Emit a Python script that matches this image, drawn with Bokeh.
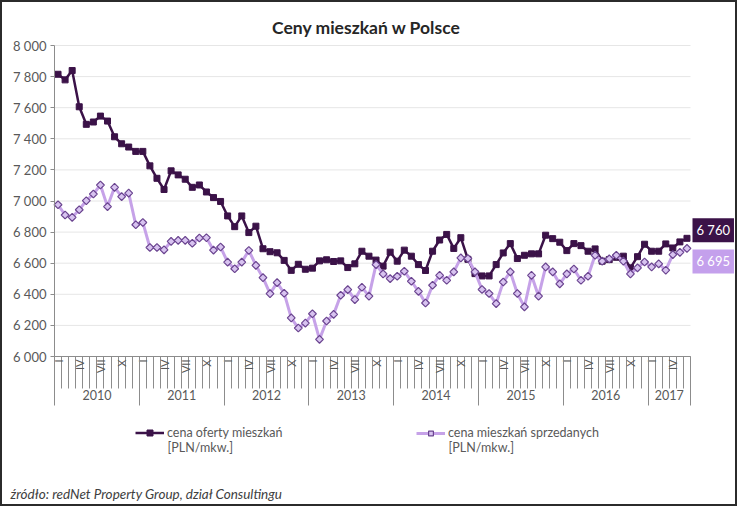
import math
from bokeh.plotting import figure
from bokeh.models import Range1d, LinearAxis, FixedTicker, Legend, LegendItem, Label
from bokeh.embed import file_html
from bokeh.resources import INLINE

# ---------------- data ----------------
years = ["2010", "2011", "2012", "2013", "2014", "2015", "2016", "2017"]
months_per_year = [12, 12, 12, 12, 12, 12, 12, 6]
month_labels = ["I", "", "", "IV", "", "", "VII", "", "", "X", "", ""]
y_ticks = [6000, 6200, 6400, 6600, 6800, 7000, 7200, 7400, 7600, 7800, 8000]

offer_name = "cena oferty mieszkań"
sold_name = "cena mieszkań sprzedanych"
unit_text = "[PLN/mkw.]"
title_text = "Ceny mieszkań w Polsce"
source_text = "źródło: redNet Property Group, dział Consultingu"

offer = [7815, 7779, 7839, 7606, 7493, 7508, 7546, 7514, 7413, 7368, 7347, 7319,
         7319, 7226, 7146, 7074, 7194, 7168, 7140, 7088, 7103, 7058, 7022, 6997,
         6904, 6835, 6904, 6797, 6838, 6693, 6674, 6667, 6618, 6554, 6593, 6561,
         6568, 6615, 6622, 6611, 6615, 6572, 6596, 6677, 6645, 6620, 6581, 6671,
         6613, 6684, 6645, 6591, 6553, 6677, 6749, 6785, 6695, 6764, 6625, 6533,
         6518, 6518, 6591, 6666, 6726, 6630, 6651, 6660, 6660, 6780, 6758, 6735,
         6681, 6726, 6713, 6677, 6692, 6613, 6623, 6638, 6645, 6570, 6642, 6722,
         6677, 6677, 6724, 6698, 6737, 6760]
sold = [6976, 6910, 6895, 6944, 7002, 7045, 7103, 6964, 7088, 7028, 7051, 6847,
        6862, 6701, 6701, 6686, 6740, 6747, 6747, 6728, 6762, 6764, 6684, 6704,
        6607, 6564, 6607, 6682, 6586, 6507, 6404, 6475, 6407, 6248, 6183, 6215,
        6275, 6110, 6228, 6271, 6394, 6430, 6366, 6445, 6388, 6591, 6531, 6501,
        6516, 6548, 6484, 6419, 6344, 6458, 6522, 6490, 6544, 6634, 6630, 6544,
        6431, 6405, 6340, 6479, 6544, 6405, 6319, 6522, 6388, 6576, 6544, 6467,
        6531, 6563, 6490, 6516, 6651, 6613, 6628, 6651, 6613, 6531, 6570, 6608,
        6576, 6596, 6555, 6655, 6670, 6695]

# ---------------- layout (pixels) / styles ----------------
W, H = 737, 506
PL, PR, PT, PB = 54, 690, 45, 356     # plotting area in page pixels
DARK = "#3b1248"
LIGHT = "#c6a2e8"
DIAMOND_FILL = "#d8c3f0"
DIAMOND_LINE = "#6b4590"
LABEL_LIGHT = "#c4a0ec"
TXT = "#595959"
AXIS = "#8c8c8c"
GRID = "#e6e6e6"
FONT = "Lato"

n = len(offer)
xs = [i + 0.5 for i in range(n)]
px_per = (PR - PL) / n
py_per = (PB - PT) / (y_ticks[-1] - y_ticks[0])
x_range = Range1d(-PL / px_per, n + (W - PR) / px_per)
y_range = Range1d(y_ticks[0] - (H - PB) / py_per, y_ticks[-1] + PT / py_per)


def fmt(v):
    return f"{v:,}".replace(",", " ")


p = figure(frame_width=W, frame_height=H, min_border=0,
           x_range=x_range, y_range=y_range,
           x_axis_type=None, y_axis_type=None,
           output_backend="svg", toolbar_location=None)
p.outline_line_color = "#2b2b2b"
p.outline_line_width = 3
p.background_fill_color = "white"
p.border_fill_color = "white"
p.xgrid.grid_line_color = None
p.ygrid.grid_line_color = None

# title
p.add_layout(Label(x=366, y=H - 27, x_units="screen", y_units="screen",
                   text=title_text, text_align="center", text_baseline="middle",
                   text_font=FONT, text_font_size="17.5px", text_font_style="bold",
                   text_color="#262626"))

# gridlines limited to the category span
p.segment(x0=[0] * len(y_ticks), y0=y_ticks, x1=[n] * len(y_ticks), y1=y_ticks,
          line_color=GRID, line_width=1)

# y axis
yax = LinearAxis(ticker=FixedTicker(ticks=y_ticks), fixed_location=0,
                 bounds=(y_ticks[0], y_ticks[-1]),
                 major_label_overrides={t: fmt(t) for t in y_ticks},
                 major_tick_out=4, major_tick_in=0, minor_tick_out=0, minor_tick_in=0,
                 axis_line_color=AXIS, major_tick_line_color=AXIS,
                 major_label_text_font=FONT, major_label_text_font_size="13px",
                 major_label_text_color=TXT, major_label_standoff=4)
p.add_layout(yax, "left")

# month axis (category boundaries + roman numerals)
month_ticks, month_over = [], {}
k = 0
for cnt in months_per_year:
    for m in range(cnt):
        if month_labels[m]:
            month_ticks.append(k + 0.5)
            month_over[k + 0.5] = month_labels[m]
        k += 1
ax1 = LinearAxis(ticker=FixedTicker(ticks=month_ticks, minor_ticks=list(range(n + 1))),
                 fixed_location=y_ticks[0], bounds=(0, n),
                 major_label_overrides=month_over,
                 major_tick_out=0, major_tick_in=0,
                 minor_tick_out=0, minor_tick_in=-32,
                 minor_tick_line_color=AXIS, axis_line_color=AXIS,
                 major_label_orientation=math.pi / 2,
                 major_label_standoff=3,
                 major_label_text_font=FONT, major_label_text_font_size="11px",
                 major_label_text_color=TXT)
p.add_layout(ax1, "below")

# year axis
year_centers, year_over, year_bounds = [], {}, [0]
k = 0
for yname, cnt in zip(years, months_per_year):
    c = k + cnt / 2
    year_centers.append(c)
    year_over[c] = yname
    k += cnt
    year_bounds.append(k)
ax2 = LinearAxis(ticker=FixedTicker(ticks=year_centers, minor_ticks=year_bounds),
                 fixed_location=y_ticks[0], bounds=(0, n),
                 major_label_overrides=year_over,
                 major_tick_out=0, major_tick_in=0,
                 minor_tick_out=0, minor_tick_in=-49,
                 minor_tick_line_color=AXIS, axis_line_color=None,
                 major_label_standoff=33,
                 major_label_text_font=FONT, major_label_text_font_size="12.5px",
                 major_label_text_color=TXT)
p.add_layout(ax2, "below")

# series
l1 = p.line(xs, offer, line_color=DARK, line_width=2.5)
s1 = p.scatter(xs, offer, marker="square", size=6, fill_color=DARK, line_color=DARK)
l2 = p.line(xs, sold, line_color=LIGHT, line_width=3)
s2 = p.scatter(xs, sold, marker="square", angle=math.pi / 4, size=5.5,
               fill_color=DIAMOND_FILL, line_color=DIAMOND_LINE, line_width=1.2)

# legend (two entries) with second text line
for name, rends, gx, tx, gh in [(offer_name, [l1, s1], 135, 167, 15),
                                (sold_name, [l2, s2], 416, 448, 12)]:
    lg = Legend(items=[LegendItem(label=name, renderers=rends)],
                location=(gx, H - 440), orientation="horizontal",
                padding=0, margin=0, border_line_color=None,
                background_fill_alpha=0,
                glyph_width=tx - gx - 3, glyph_height=gh, label_height=15,
                label_standoff=3,
                label_text_font=FONT, label_text_font_size="12.5px",
                label_text_color=TXT)
    p.add_layout(lg, "center")
    p.add_layout(Label(x=tx, y=H - 447, x_units="screen", y_units="screen",
                       text=unit_text, text_baseline="middle",
                       text_font=FONT, text_font_size="12.5px", text_color=TXT))

# source
p.add_layout(Label(x=10, y=H - 493, x_units="screen", y_units="screen",
                   text=source_text, text_baseline="middle",
                   text_font=FONT, text_font_size="13.5px", text_font_style="italic",
                   text_color="#404040"))

# end labels
p.add_layout(Label(x=n, y=offer[-1], x_offset=2, y_offset=8, text=fmt(offer[-1]),
                   text_baseline="middle", text_align="left", text_color="white",
                   text_font=FONT, text_font_size="13px",
                   background_fill_color=DARK, padding=4))
p.add_layout(Label(x=n, y=sold[-1], x_offset=2, y_offset=-13, text=fmt(sold[-1]),
                   text_baseline="middle", text_align="left", text_color="white",
                   text_font=FONT, text_font_size="13px",
                   background_fill_color=LABEL_LIGHT, padding=4))

open("out.html", "w").write(file_html(p, INLINE))
